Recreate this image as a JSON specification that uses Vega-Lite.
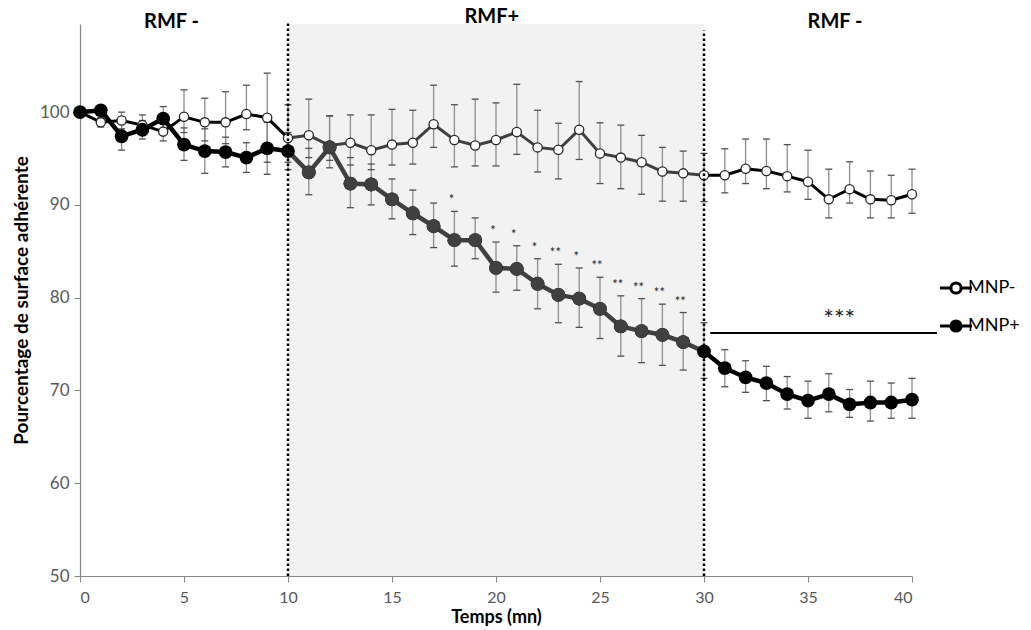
{
  "$schema": "https://vega.github.io/schema/vega-lite/v6.json",
  "width": 832,
  "height": 552,
  "autosize": {"type": "none"},
  "padding": {"left": 80, "top": 24, "right": 119, "bottom": 54},
  "background": "white",
  "config": {
    "view": {"stroke": null},
    "font": "Lato"
  },
  "datasets": {
    "series": [
      {"series": "MNP-", "t": 0, "v": 100, "lo": 100, "hi": 100},
      {"series": "MNP-", "t": 1, "v": 98.9, "lo": 98.4, "hi": 99.4},
      {"series": "MNP-", "t": 2, "v": 99.1, "lo": 98.2, "hi": 100.0},
      {"series": "MNP-", "t": 3, "v": 98.6, "lo": 97.6, "hi": 99.7},
      {"series": "MNP-", "t": 4, "v": 97.9, "lo": 96.9, "hi": 98.9},
      {"series": "MNP-", "t": 5, "v": 99.5, "lo": 97.8, "hi": 102.4},
      {"series": "MNP-", "t": 6, "v": 98.9, "lo": 96.9, "hi": 101.5},
      {"series": "MNP-", "t": 7, "v": 98.9, "lo": 96.6, "hi": 102.2},
      {"series": "MNP-", "t": 8, "v": 99.8, "lo": 98.1, "hi": 102.9},
      {"series": "MNP-", "t": 9, "v": 99.4, "lo": 94.6, "hi": 104.2},
      {"series": "MNP-", "t": 10, "v": 97.2, "lo": 94.6, "hi": 100.8},
      {"series": "MNP-", "t": 11, "v": 97.5, "lo": 95.1, "hi": 101.4},
      {"series": "MNP-", "t": 12, "v": 96.4, "lo": 94.0, "hi": 99.6},
      {"series": "MNP-", "t": 13, "v": 96.7, "lo": 94.3, "hi": 99.7},
      {"series": "MNP-", "t": 14, "v": 95.9, "lo": 93.8, "hi": 99.7},
      {"series": "MNP-", "t": 15, "v": 96.5, "lo": 94.3, "hi": 100.3},
      {"series": "MNP-", "t": 16, "v": 96.7, "lo": 94.4, "hi": 100.2},
      {"series": "MNP-", "t": 17, "v": 98.7, "lo": 96.2, "hi": 102.9},
      {"series": "MNP-", "t": 18, "v": 97.0, "lo": 94.1, "hi": 100.8},
      {"series": "MNP-", "t": 19, "v": 96.4, "lo": 94.2, "hi": 101.4},
      {"series": "MNP-", "t": 20, "v": 97.0, "lo": 94.2, "hi": 101.0},
      {"series": "MNP-", "t": 21, "v": 97.85, "lo": 95.45, "hi": 103.0},
      {"series": "MNP-", "t": 22, "v": 96.2, "lo": 93.55, "hi": 100.2},
      {"series": "MNP-", "t": 23, "v": 95.95, "lo": 92.8, "hi": 98.8},
      {"series": "MNP-", "t": 24, "v": 98.1, "lo": 94.9, "hi": 103.3},
      {"series": "MNP-", "t": 25, "v": 95.55, "lo": 92.3, "hi": 98.85},
      {"series": "MNP-", "t": 26, "v": 95.1, "lo": 91.75, "hi": 98.6},
      {"series": "MNP-", "t": 27, "v": 94.6, "lo": 91.15, "hi": 97.5},
      {"series": "MNP-", "t": 28, "v": 93.6, "lo": 90.4, "hi": 96.2},
      {"series": "MNP-", "t": 29, "v": 93.4, "lo": 90.4, "hi": 95.8},
      {"series": "MNP-", "t": 30, "v": 93.2, "lo": 90.35, "hi": 95.55},
      {"series": "MNP-", "t": 31, "v": 93.2, "lo": 91.3, "hi": 96.05},
      {"series": "MNP-", "t": 32, "v": 93.9, "lo": 92.3, "hi": 97.1},
      {"series": "MNP-", "t": 33, "v": 93.65, "lo": 91.75, "hi": 97.1},
      {"series": "MNP-", "t": 34, "v": 93.1, "lo": 91.4, "hi": 96.5},
      {"series": "MNP-", "t": 35, "v": 92.5, "lo": 90.6, "hi": 95.9},
      {"series": "MNP-", "t": 36, "v": 90.6, "lo": 88.6, "hi": 93.85},
      {"series": "MNP-", "t": 37, "v": 91.7, "lo": 90.2, "hi": 94.65},
      {"series": "MNP-", "t": 38, "v": 90.6, "lo": 88.6, "hi": 93.65},
      {"series": "MNP-", "t": 39, "v": 90.5, "lo": 88.6, "hi": 93.2},
      {"series": "MNP-", "t": 40, "v": 91.15, "lo": 89.1, "hi": 93.85},
      {"series": "MNP+", "t": 0, "v": 100, "lo": 100, "hi": 100},
      {"series": "MNP+", "t": 1, "v": 100.2, "lo": 100.2, "hi": 100.2},
      {"series": "MNP+", "t": 2, "v": 97.4, "lo": 95.9, "hi": 98.9},
      {"series": "MNP+", "t": 3, "v": 98.1, "lo": 97.1, "hi": 99.1},
      {"series": "MNP+", "t": 4, "v": 99.3, "lo": 98.0, "hi": 100.6},
      {"series": "MNP+", "t": 5, "v": 96.5, "lo": 94.8, "hi": 98.3},
      {"series": "MNP+", "t": 6, "v": 95.8, "lo": 93.4, "hi": 98.2},
      {"series": "MNP+", "t": 7, "v": 95.7, "lo": 94.1, "hi": 97.3},
      {"series": "MNP+", "t": 8, "v": 95.1, "lo": 93.5, "hi": 96.7},
      {"series": "MNP+", "t": 9, "v": 96.1, "lo": 93.3, "hi": 98.9},
      {"series": "MNP+", "t": 10, "v": 95.8, "lo": 93.8, "hi": 97.8},
      {"series": "MNP+", "t": 11, "v": 93.5, "lo": 91.1, "hi": 96.1},
      {"series": "MNP+", "t": 12, "v": 96.2, "lo": 94.8, "hi": 99.6},
      {"series": "MNP+", "t": 13, "v": 92.3, "lo": 89.7, "hi": 95.1},
      {"series": "MNP+", "t": 14, "v": 92.2, "lo": 90.0, "hi": 94.4},
      {"series": "MNP+", "t": 15, "v": 90.6, "lo": 88.5, "hi": 92.8},
      {"series": "MNP+", "t": 16, "v": 89.1, "lo": 86.8, "hi": 91.6},
      {"series": "MNP+", "t": 17, "v": 87.7, "lo": 85.4, "hi": 90.2},
      {"series": "MNP+", "t": 18, "v": 86.2, "lo": 83.4, "hi": 89.3, "star": "*"},
      {"series": "MNP+", "t": 19, "v": 86.2, "lo": 84.2, "hi": 88.6},
      {"series": "MNP+", "t": 20, "v": 83.2, "lo": 80.6, "hi": 86.0, "star": "*"},
      {"series": "MNP+", "t": 21, "v": 83.1, "lo": 80.8, "hi": 85.6, "star": "*"},
      {"series": "MNP+", "t": 22, "v": 81.5, "lo": 78.8, "hi": 84.2, "star": "*"},
      {"series": "MNP+", "t": 23, "v": 80.3, "lo": 77.3, "hi": 83.6, "star": "**"},
      {"series": "MNP+", "t": 24, "v": 79.9, "lo": 76.8, "hi": 83.2, "star": "*"},
      {"series": "MNP+", "t": 25, "v": 78.8, "lo": 75.6, "hi": 82.2, "star": "**"},
      {"series": "MNP+", "t": 26, "v": 76.9, "lo": 73.7, "hi": 80.2, "star": "**"},
      {"series": "MNP+", "t": 27, "v": 76.4, "lo": 73.0, "hi": 79.9, "star": "**"},
      {"series": "MNP+", "t": 28, "v": 76.0, "lo": 72.7, "hi": 79.3, "star": "**"},
      {"series": "MNP+", "t": 29, "v": 75.2, "lo": 72.2, "hi": 78.4, "star": "**"},
      {"series": "MNP+", "t": 30, "v": 74.2, "lo": 71.3, "hi": 77.3},
      {"series": "MNP+", "t": 31, "v": 72.4, "lo": 70.4, "hi": 74.4},
      {"series": "MNP+", "t": 32, "v": 71.4, "lo": 69.8, "hi": 73.2},
      {"series": "MNP+", "t": 33, "v": 70.8, "lo": 68.9, "hi": 72.6},
      {"series": "MNP+", "t": 34, "v": 69.6, "lo": 68.0, "hi": 71.5},
      {"series": "MNP+", "t": 35, "v": 68.9, "lo": 67.0, "hi": 71.0},
      {"series": "MNP+", "t": 36, "v": 69.6, "lo": 67.7, "hi": 71.8},
      {"series": "MNP+", "t": 37, "v": 68.5, "lo": 67.1, "hi": 70.1},
      {"series": "MNP+", "t": 38, "v": 68.7, "lo": 66.7, "hi": 71.0},
      {"series": "MNP+", "t": 39, "v": 68.7, "lo": 67.0, "hi": 70.8},
      {"series": "MNP+", "t": 40, "v": 69.0, "lo": 67.0, "hi": 71.3}
    ],
    "phases": [
      {"label": "RMF -", "start": 0, "end": 10, "lx": 4.4, "ly": 109.7},
      {"label": "RMF+", "start": 10, "end": 30, "lx": 19.8, "ly": 110.3},
      {"label": "RMF -", "start": 30, "end": 40, "lx": 36.3, "ly": 109.7}
    ],
    "markers": [
      {"t": 10, "bottom": 50, "top": 109.8},
      {"t": 30, "bottom": 50, "top": 108.8}
    ],
    "sig": [
      {"x1": 30.3, "x2": 41.2, "y": 76.2, "label": "***", "xl": 36.5, "yl": 77.6}
    ]
  },
  "layer": [
    {
      "data": {"name": "phases"},
      "transform": [{"filter": "datum.label === 'RMF+'"}],
      "mark": {"type": "rect", "fill": "#f2f2f2"},
      "encoding": {
        "x": {"field": "start", "type": "quantitative"},
        "x2": {"field": "end"}
      }
    },
    {
      "data": {"name": "series"},
      "mark": {"type": "rule", "stroke": "#8c8c8c", "strokeWidth": 1.3},
      "encoding": {
        "x": {"field": "t", "type": "quantitative"},
        "y": {"field": "lo", "type": "quantitative"},
        "y2": {"field": "hi"}
      }
    },
    {
      "data": {"name": "series"},
      "transform": [{"fold": ["lo", "hi"], "as": ["end", "ev"]}],
      "mark": {"type": "tick", "orient": "horizontal", "color": "#505050", "size": 7, "thickness": 1.3, "opacity": 1},
      "encoding": {
        "x": {"field": "t", "type": "quantitative"},
        "y": {"field": "ev", "type": "quantitative"}
      }
    },
    {
      "data": {"name": "series"},
      "transform": [{"filter": "datum.t <= 10"}],
      "mark": {"type": "line", "color": "black"},
      "encoding": {
        "x": {
          "field": "t", "type": "quantitative",
          "scale": {"domain": [0, 40], "nice": false},
          "axis": {
            "title": "Temps (mn)", "values": [0, 5, 10, 15, 20, 25, 30, 35, 40],
            "grid": false, "domainColor": "#868686", "domainWidth": 1.2,
            "tickColor": "#868686", "tickSize": 6, "labelPadding": 7,
            "labelFontSize": 16, "labelColor": "#595959",
            "titleFontSize": 18, "titleFontWeight": "bold", "titleColor": "black", "titlePadding": 3
          }
        },
        "y": {
          "field": "v", "type": "quantitative",
          "scale": {"domain": [50, 109.5], "nice": false, "zero": false},
          "axis": {
            "title": "Pourcentage de surface adhérente", "values": [50, 60, 70, 80, 90, 100],
            "grid": false, "domainColor": "#868686", "domainWidth": 1.2,
            "tickColor": "#868686", "tickSize": 6, "labelPadding": 5,
            "labelFontSize": 17, "labelColor": "#595959",
            "titleFontSize": 19, "titleFontWeight": "bold", "titleColor": "black", "titlePadding": 8
          }
        },
        "detail": {"field": "series", "type": "nominal"},
        "strokeWidth": {"condition": {"test": "datum.series === 'MNP+'", "value": 4.5}, "value": 3}
      }
    },
    {
      "data": {"name": "series"},
      "transform": [{"filter": "datum.t >= 10 && datum.t <= 30"}],
      "mark": {"type": "line", "color": "#404040"},
      "encoding": {
        "x": {"field": "t", "type": "quantitative"},
        "y": {"field": "v", "type": "quantitative"},
        "detail": {"field": "series", "type": "nominal"},
        "strokeWidth": {"condition": {"test": "datum.series === 'MNP+'", "value": 4.5}, "value": 3}
      }
    },
    {
      "data": {"name": "series"},
      "transform": [{"filter": "datum.t >= 30"}],
      "mark": {"type": "line", "color": "black"},
      "encoding": {
        "x": {"field": "t", "type": "quantitative"},
        "y": {"field": "v", "type": "quantitative"},
        "detail": {"field": "series", "type": "nominal"},
        "strokeWidth": {"condition": {"test": "datum.series === 'MNP+'", "value": 4.5}, "value": 3}
      }
    },
    {
      "data": {"name": "series"},
      "transform": [{"filter": "datum.series === 'MNP-'"}],
      "mark": {"type": "circle", "opacity": 1, "stroke": "#262626", "strokeWidth": 1.3, "size": 85},
      "encoding": {
        "x": {"field": "t", "type": "quantitative"},
        "y": {"field": "v", "type": "quantitative"},
        "fill": {
          "field": "series", "type": "nominal",
          "scale": {"domain": ["MNP-", "MNP+"], "range": ["white", "black"]},
          "legend": {
            "orient": "none", "legendX": 867, "legendY": 255, "title": null,
            "symbolType": "M-2.5,0L-0.8,0M0.8,0L2.5,0M0.8,0A0.8,0.8,0,1,1,-0.8,0A0.8,0.8,0,1,1,0.8,0Z",
            "symbolSize": 164, "symbolStrokeColor": "black", "symbolStrokeWidth": 3,
            "labelFontSize": 18, "labelColor": "black", "labelOffset": 3, "rowPadding": 14
          }
        }
      }
    },
    {
      "data": {"name": "series"},
      "transform": [{"filter": "datum.series === 'MNP+'"}],
      "mark": {"type": "circle", "opacity": 1, "size": 190},
      "encoding": {
        "x": {"field": "t", "type": "quantitative"},
        "y": {"field": "v", "type": "quantitative"},
        "fill": {"field": "series", "type": "nominal"}
      }
    },
    {
      "data": {"name": "series"},
      "transform": [{"filter": "datum.series === 'MNP+' && datum.t > 10 && datum.t < 30"}],
      "mark": {"type": "circle", "opacity": 1, "fill": "#404040", "size": 190},
      "encoding": {
        "x": {"field": "t", "type": "quantitative"},
        "y": {"field": "v", "type": "quantitative"}
      }
    },
    {
      "data": {"name": "markers"},
      "mark": {"type": "rule", "color": "black", "strokeWidth": 2.5, "strokeDash": [2.5, 2.5]},
      "encoding": {
        "x": {"field": "t", "type": "quantitative"},
        "y": {"field": "bottom", "type": "quantitative"},
        "y2": {"field": "top"}
      }
    },
    {
      "data": {"name": "series"},
      "transform": [{"filter": "datum.star"}],
      "mark": {"type": "text", "fontSize": 13, "color": "#262626", "dy": -11, "dx": -3, "baseline": "middle"},
      "encoding": {
        "x": {"field": "t", "type": "quantitative"},
        "y": {"field": "hi", "type": "quantitative"},
        "text": {"field": "star", "type": "nominal"}
      }
    },
    {
      "data": {"name": "sig"},
      "mark": {"type": "rule", "color": "black", "strokeWidth": 2},
      "encoding": {
        "x": {"field": "x1", "type": "quantitative"},
        "x2": {"field": "x2"},
        "y": {"field": "y", "type": "quantitative"}
      }
    },
    {
      "data": {"name": "sig"},
      "mark": {"type": "text", "fontSize": 25, "color": "#262626", "baseline": "middle"},
      "encoding": {
        "x": {"field": "xl", "type": "quantitative"},
        "y": {"field": "yl", "type": "quantitative"},
        "text": {"field": "label", "type": "nominal"}
      }
    },
    {
      "data": {"name": "phases"},
      "mark": {"type": "text", "fontSize": 20, "fontWeight": "bold", "color": "black", "baseline": "middle"},
      "encoding": {
        "x": {"field": "lx", "type": "quantitative"},
        "y": {"field": "ly", "type": "quantitative"},
        "text": {"field": "label", "type": "nominal"}
      }
    }
  ]
}
